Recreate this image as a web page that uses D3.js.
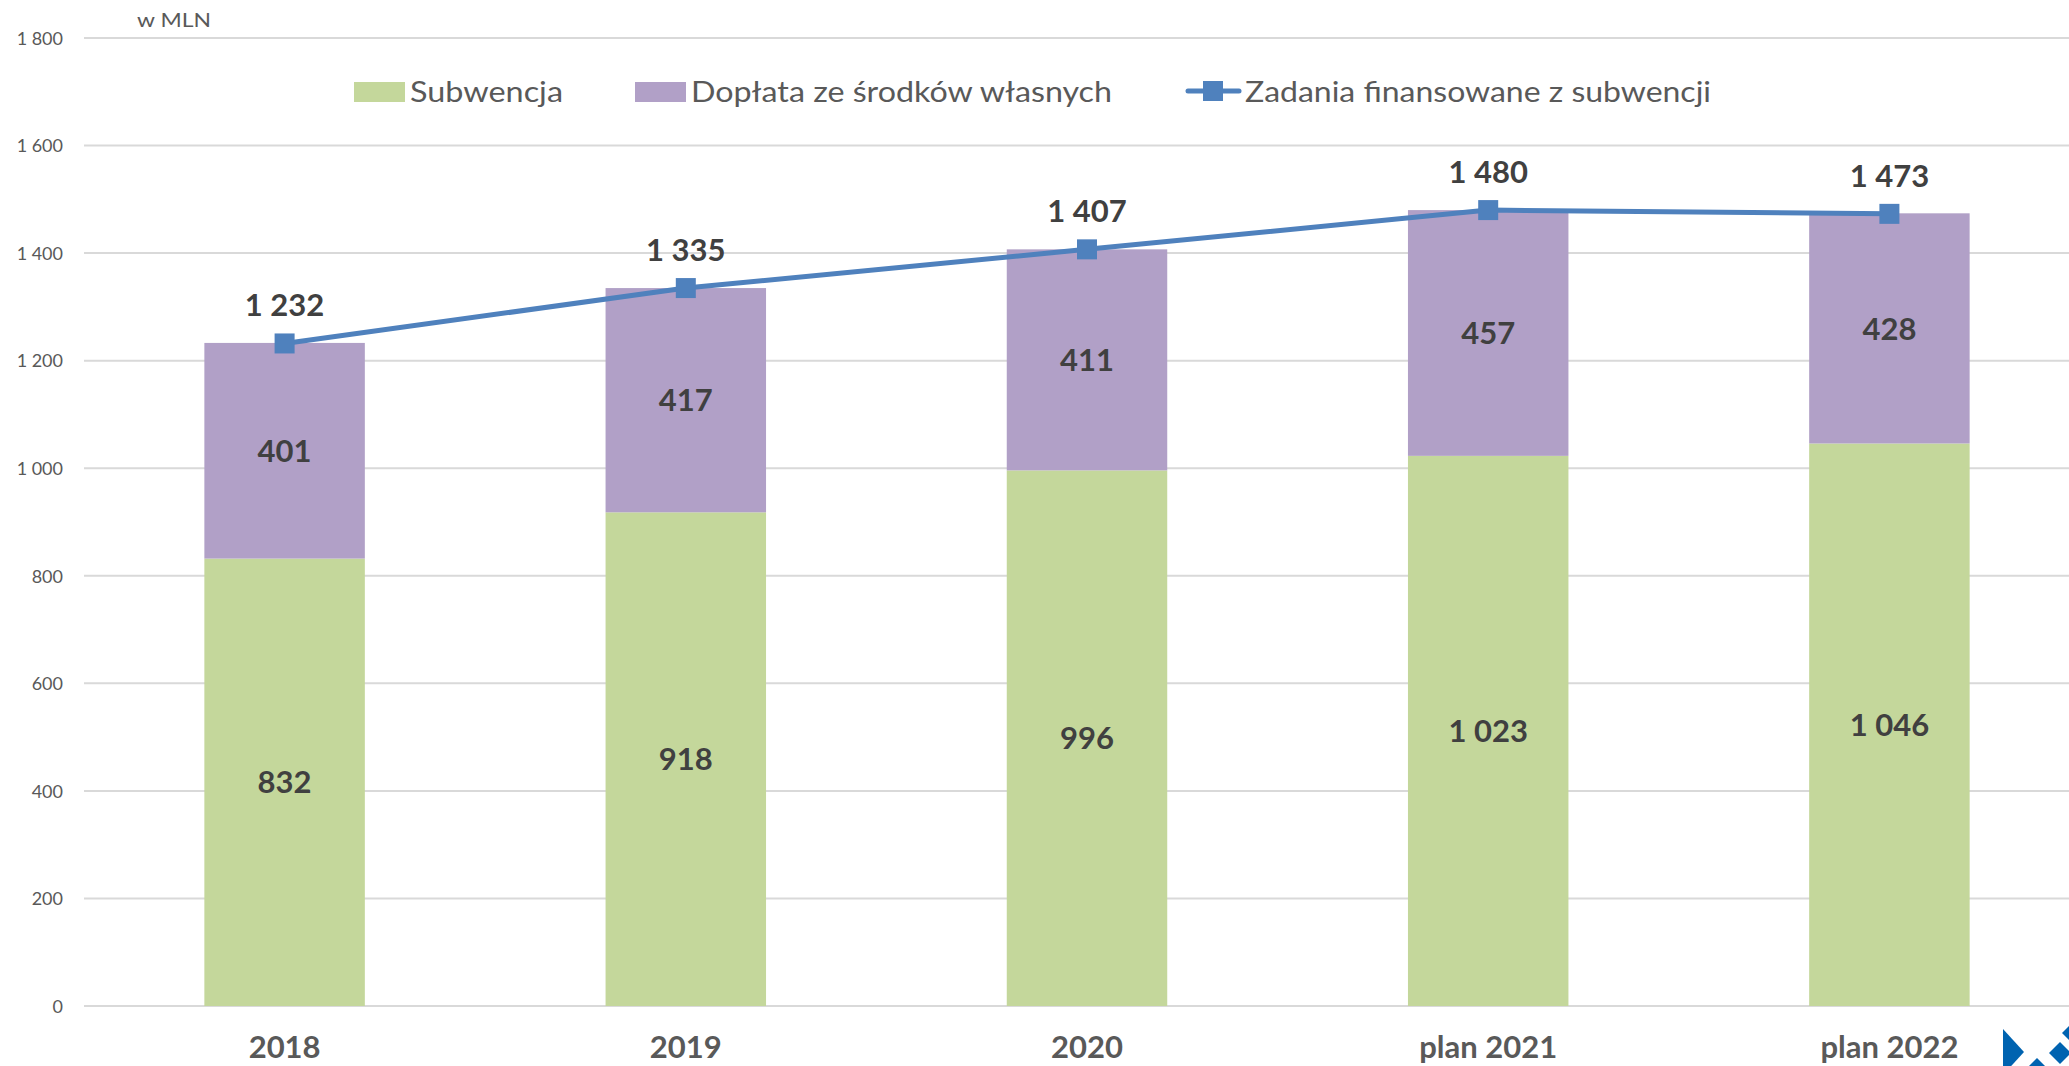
<!DOCTYPE html>
<html>
<head>
<meta charset="utf-8">
<script src="https://cdn.jsdelivr.net/npm/d3@7"></script>
<style>
  html, body { margin: 0; padding: 0; background: #fff; }
  svg { display: block; }
</style>
</head>
<body>
<svg id="chart" width="2069" height="1066"></svg>
<script>
const categories = ["2018", "2019", "2020", "plan 2021", "plan 2022"];
const subwencja = [832, 918, 996, 1023, 1046];
const doplata = [401, 417, 411, 457, 428];
const zadania = [1232, 1335, 1407, 1480, 1473];
const yTicks = [0, 200, 400, 600, 800, 1000, 1200, 1400, 1600, 1800];
const seriesNames = ["Subwencja", "Dopłata ze środków własnych", "Zadania finansowane z subwencji"];
const unitLabel = "w MLN";

const colors = { sub: "#C4D79B", dop: "#B1A0C7", line: "#4F81BD", grid: "#D9D9D9", tick: "#595959", label: "#404040" };
const fmt = v => d3.format(",")(v).replace(/,/g, " ");

const svg = d3.select("#chart");
const plotLeft = 84, plotRight = 2090, plotTop = 38, plotBottom = 1006;

const x = d3.scaleBand().domain(categories).range([plotLeft, plotRight]).paddingInner(0.6).paddingOuter(0.3);
const y = d3.scaleLinear().domain([0, 1800]).range([plotBottom, plotTop]);

// gridlines
svg.append("g").selectAll("line").data(yTicks).join("line")
  .attr("x1", plotLeft).attr("x2", 2069)
  .attr("y1", d => y(d)).attr("y2", d => y(d))
  .attr("stroke", colors.grid).attr("stroke-width", 2);

// y axis labels
const yAxis = d3.axisLeft(y).tickValues(yTicks).tickFormat(fmt).tickSize(0).tickPadding(0);
const gy = svg.append("g").attr("transform", "translate(63,0)").call(yAxis);
gy.select(".domain").remove();
gy.selectAll("text").attr("font-family", "Lato, sans-serif").attr("font-size", 18).attr("fill", colors.tick).attr("dy", "0.35em");

// unit label
svg.append("text").attr("x", 137).attr("y", 27).text(unitLabel)
  .attr("font-family", "Lato, sans-serif").attr("font-size", 20).attr("fill", colors.tick)
  .attr("textLength", 74).attr("lengthAdjust", "spacingAndGlyphs");

// stacked bars
const rows = categories.map((c, i) => ({ cat: c, sub: subwencja[i], dop: doplata[i] }));
const stack = d3.stack().keys(["sub", "dop"])(rows);
const gBars = svg.append("g");
stack.forEach(layer => {
  gBars.append("g").attr("fill", colors[layer.key]).selectAll("rect").data(layer).join("rect")
    .attr("x", d => x(d.data.cat)).attr("width", x.bandwidth())
    .attr("y", d => y(d[1])).attr("height", d => y(d[0]) - y(d[1]));
});
// segment labels
stack.forEach(layer => {
  svg.append("g").selectAll("text").data(layer).join("text")
    .attr("x", d => x(d.data.cat) + x.bandwidth() / 2)
    .attr("y", d => (y(d[0]) + y(d[1])) / 2)
    .attr("dy", "0.36em")
    .attr("text-anchor", "middle")
    .attr("font-family", "Lato, sans-serif").attr("font-weight", 700).attr("font-size", 31)
    .attr("fill", colors.label)
    .text(d => fmt(d[1] - d[0]));
});

// line
const cx = c => x(c) + x.bandwidth() / 2;
const line = d3.line().x((d, i) => cx(categories[i])).y(d => y(d));
svg.append("path").datum(zadania).attr("d", line)
  .attr("fill", "none").attr("stroke", colors.line).attr("stroke-width", 5).attr("stroke-linejoin", "round");
svg.append("g").selectAll("rect").data(zadania).join("rect")
  .attr("x", (d, i) => cx(categories[i]) - 10).attr("y", d => y(d) - 10)
  .attr("width", 20).attr("height", 20).attr("fill", colors.line);
svg.append("g").selectAll("text").data(zadania).join("text")
  .attr("x", (d, i) => cx(categories[i])).attr("y", d => y(d) - 27)
  .attr("text-anchor", "middle")
  .attr("font-family", "Lato, sans-serif").attr("font-weight", 700).attr("font-size", 31)
  .attr("fill", colors.label)
  .text(d => fmt(d));

// x axis labels
const xAxis = d3.axisBottom(x).tickSize(0).tickPadding(0);
const gx = svg.append("g").attr("transform", `translate(0,${plotBottom})`).call(xAxis);
gx.select(".domain").remove();
gx.selectAll("text").attr("font-family", "Lato, sans-serif").attr("font-weight", 700).attr("font-size", 31)
  .attr("fill", colors.tick).attr("dy", null).attr("y", 52);

// legend
const legend = svg.append("g").attr("font-family", "Lato, sans-serif").attr("font-size", 29).attr("fill", colors.tick);
legend.append("rect").attr("x", 354).attr("y", 82).attr("width", 51).attr("height", 20).attr("fill", colors.sub);
legend.append("text").attr("x", 410).attr("y", 102).text(seriesNames[0]).attr("textLength", 153).attr("lengthAdjust", "spacingAndGlyphs");
legend.append("rect").attr("x", 635).attr("y", 82).attr("width", 51).attr("height", 20).attr("fill", colors.dop);
legend.append("text").attr("x", 691).attr("y", 102).text(seriesNames[1]).attr("textLength", 421).attr("lengthAdjust", "spacingAndGlyphs");
legend.append("line").attr("x1", 1188).attr("x2", 1239).attr("y1", 91).attr("y2", 91)
  .attr("stroke", colors.line).attr("stroke-width", 5).attr("stroke-linecap", "round");
legend.append("rect").attr("x", 1203).attr("y", 81).attr("width", 20).attr("height", 20).attr("fill", colors.line);
legend.append("text").attr("x", 1245).attr("y", 102).text(seriesNames[2]).attr("textLength", 466).attr("lengthAdjust", "spacingAndGlyphs");

// logo fragment (bottom right)
const logo = svg.append("g").attr("fill", "#0063B0");
logo.append("polygon").attr("points", "2003,1029 2024,1052 2003,1075");
logo.append("polygon").attr("points", "2037,1058 2047,1068 2027,1068");
logo.append("polygon").attr("points", "2049,1053 2060,1042 2071,1053 2060,1064");
logo.append("polygon").attr("points", "2062,1033 2069,1026 2069,1040");
</script>
</body>
</html>
